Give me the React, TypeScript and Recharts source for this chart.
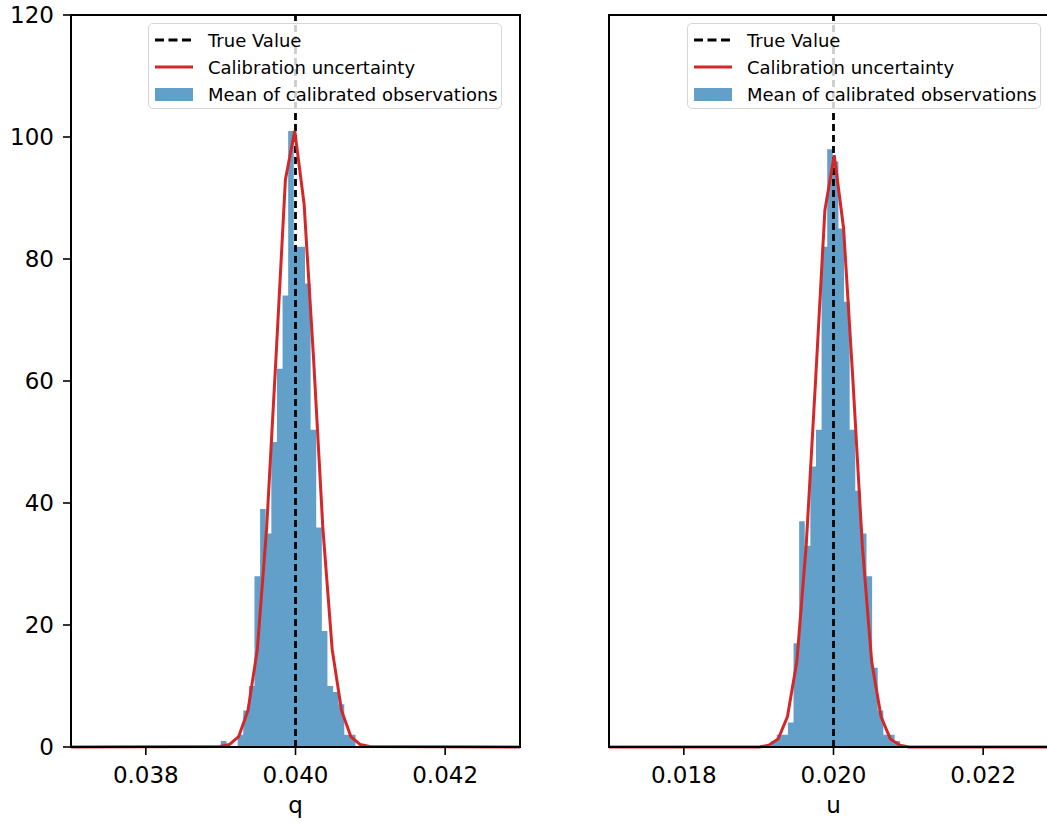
import React from "react";
import {
  ComposedChart,
  Area,
  Line,
  XAxis,
  YAxis,
  ReferenceLine,
  ReferenceArea,
} from "recharts";

// q panel: histogram bin edges and counts
const qEdges = [
  0.039002, 0.039077, 0.039152, 0.039227, 0.039302, 0.039377, 0.039452,
  0.039527, 0.039602, 0.039677, 0.039752, 0.039827, 0.039902, 0.039977,
  0.040052, 0.040127, 0.040202, 0.040277, 0.040352, 0.040427, 0.040502,
  0.040577, 0.040652, 0.040727, 0.040802, 0.040877,
];
const qCounts = [
  1, 0, 0, 2, 6, 10, 28, 39, 35, 50, 62, 74, 101, 82, 82, 76, 52, 36, 19, 10,
  9, 7, 2, 2, 0,
];
// q panel: calibration uncertainty curve
const qCurveX = [
  0.037, 0.03899, 0.039115, 0.03924, 0.039365, 0.03949, 0.039615, 0.03974,
  0.039865, 0.03999, 0.040115, 0.04024, 0.040365, 0.04049, 0.040615, 0.04074,
  0.040865, 0.04099, 0.043,
];
const qCurveY = [
  0, 0.1, 0.4, 1.7, 6, 16, 36, 64, 93, 101, 89, 64, 36, 16, 6, 1.7, 0.4, 0.1, 0,
];

// u panel
const uEdges = [
  0.019166, 0.019241, 0.019316, 0.019391, 0.019466, 0.019541, 0.019616,
  0.019691, 0.019766, 0.019841, 0.019916, 0.019991, 0.020066, 0.020141,
  0.020216, 0.020291, 0.020366, 0.020441, 0.020516, 0.020591, 0.020666,
  0.020741, 0.020816, 0.020891,
];
const uCounts = [
  1, 2, 2, 4, 17, 37, 33, 46, 52, 82, 98, 96, 85, 73, 52, 42, 35, 28, 13, 6, 2,
  2, 1,
];
const uCurveX = [
  0.017, 0.01901, 0.019135, 0.01926, 0.019385, 0.01951, 0.019635, 0.01976,
  0.019885, 0.02001, 0.020135, 0.02026, 0.020385, 0.02051, 0.020635, 0.02076,
  0.020885, 0.02101, 0.023,
];
const uCurveY = [
  0, 0, 0.3, 1.3, 5, 14, 33, 60, 88, 97, 85, 60, 33, 14, 5, 1.3, 0.3, 0, 0,
];

const yTicks = [0, 20, 40, 60, 80, 100, 120];
const qTicks = [0.038, 0.04, 0.042];
const uTicks = [0.018, 0.02, 0.022];
const qDomain = [0.037, 0.043];
const uDomain = [0.017, 0.023];
const qTrue = 0.04;
const uTrue = 0.02;

const legendItems = [
  { label: "True Value", kind: "dashed" },
  { label: "Calibration uncertainty", kind: "line" },
  { label: "Mean of calibrated observations", kind: "patch" },
];

const FONT = "DejaVu Sans";
const BLUE = "#1f77b4";
const RED = "#d62728";

const toSteps = (edges: number[], counts: number[]) =>
  edges.map((x, i) => ({ x, y: i < counts.length ? counts[i] : 0 }));

const toCurve = (xs: number[], ys: number[]) =>
  xs.map((x, i) => ({ x, y: ys[i] }));

interface PanelProps {
  edges: number[];
  counts: number[];
  curveX: number[];
  curveY: number[];
  domain: number[];
  ticks: number[];
  trueValue: number;
  axisLabel: string;
  showYLabels: boolean;
}

const Panel: React.FC<PanelProps> = ({
  edges,
  counts,
  curveX,
  curveY,
  domain,
  ticks,
  trueValue,
  axisLabel,
  showYLabels,
}) => {
  const tickStyle = { fontSize: 23, fill: "#000", fontFamily: FONT };
  return (
    <ComposedChart
      width={540}
      height={827}
      margin={{ top: 15, right: 20, bottom: 0, left: 11 }}
    >
      <XAxis
        type="number"
        dataKey="x"
        domain={domain}
        ticks={ticks}
        allowDataOverflow
        height={80}
        tickSize={8}
        tickMargin={12}
        tick={tickStyle}
        tickFormatter={(v: number) => v.toFixed(3)}
        axisLine={{ stroke: "#000", strokeWidth: 2 }}
        tickLine={{ stroke: "#000", strokeWidth: 1.6 }}
        label={{
          value: axisLabel,
          position: "insideBottom",
          offset: 14,
          fontSize: 23,
          fill: "#000",
          fontFamily: FONT,
        }}
      />
      <YAxis
        type="number"
        domain={[0, 120]}
        ticks={yTicks}
        width={60}
        tickSize={8}
        tickMargin={9}
        tick={showYLabels ? tickStyle : false}
        axisLine={{ stroke: "#000", strokeWidth: 2 }}
        tickLine={{ stroke: "#000", strokeWidth: 1.6 }}
      />
      <Area
        data={toSteps(edges, counts)}
        dataKey="y"
        type="stepAfter"
        stroke="none"
        fill={BLUE}
        fillOpacity={0.7}
        isAnimationActive={false}
      />
      <ReferenceLine
        x={trueValue}
        stroke="#000"
        strokeWidth={2.8}
        strokeDasharray="7 4"
      />
      <Line
        data={toCurve(curveX, curveY)}
        dataKey="y"
        type="linear"
        stroke={RED}
        strokeWidth={3}
        dot={false}
        isAnimationActive={false}
      />
      <ReferenceArea
        x1={domain[0]}
        x2={domain[1]}
        y1={0}
        y2={120}
        fill="none"
        fillOpacity={0}
        stroke="#000"
        strokeWidth={2}
        ifOverflow="visible"
      />
    </ComposedChart>
  );
};

const LegendBox: React.FC<{ left: number }> = ({ left }) => (
  <div
    style={{
      position: "absolute",
      left,
      top: 23,
      width: 354,
      height: 86,
      boxSizing: "border-box",
      border: "1px solid #d6d6d6",
      borderRadius: 5,
      background: "rgba(255,255,255,0.8)",
      fontFamily: FONT,
      fontSize: 18,
      color: "#000",
    }}
  >
    {legendItems.map((item, i) => (
      <div
        key={item.label}
        style={{
          position: "absolute",
          left: 6,
          top: 4 + i * 27,
          height: 24,
          display: "flex",
          alignItems: "center",
          whiteSpace: "nowrap",
        }}
      >
        <svg width={40} height={24} style={{ marginRight: 13 }}>
          {item.kind === "dashed" && (
            <line
              x1={0}
              y1={12}
              x2={38}
              y2={12}
              stroke="#000"
              strokeWidth={3}
              strokeDasharray="9 4.5"
            />
          )}
          {item.kind === "line" && (
            <line x1={0} y1={12} x2={38} y2={12} stroke={RED} strokeWidth={3} />
          )}
          {item.kind === "patch" && (
            <rect x={0} y={6} width={38} height={13} fill={BLUE} fillOpacity={0.7} />
          )}
        </svg>
        <span>{item.label}</span>
      </div>
    ))}
  </div>
);

export default function App() {
  return (
    <div
      style={{
        position: "absolute",
        left: 0,
        top: 0,
        width: 1047,
        height: 827,
        overflow: "hidden",
        background: "#fff",
      }}
    >
      <div style={{ position: "absolute", left: 0, top: 0 }}>
        <Panel
          edges={qEdges}
          counts={qCounts}
          curveX={qCurveX}
          curveY={qCurveY}
          domain={qDomain}
          ticks={qTicks}
          trueValue={qTrue}
          axisLabel="q"
          showYLabels={true}
        />
      </div>
      <div style={{ position: "absolute", left: 538, top: 0 }}>
        <Panel
          edges={uEdges}
          counts={uCounts}
          curveX={uCurveX}
          curveY={uCurveY}
          domain={uDomain}
          ticks={uTicks}
          trueValue={uTrue}
          axisLabel="u"
          showYLabels={false}
        />
      </div>
      <LegendBox left={148} />
      <LegendBox left={687} />
    </div>
  );
}
